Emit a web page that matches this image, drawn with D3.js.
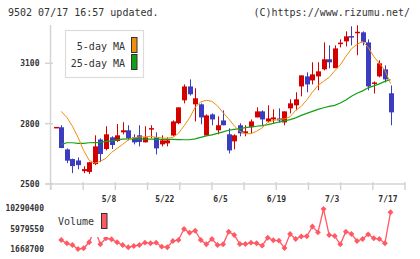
<!DOCTYPE html>
<html><head><meta charset="utf-8">
<script src="https://cdn.jsdelivr.net/npm/d3@7"></script>
<style>
html,body{margin:0;padding:0;background:#fff;}
svg{display:block;}
</style></head>
<body>
<svg id="c" width="420" height="259"></svg>
<script>
const dates = ["4/21","4/22","4/23","4/24","4/25","4/28","4/30",
"5/1","5/2","5/7","5/8","5/9","5/12","5/13","5/14","5/15","5/16","5/19","5/20","5/21","5/22","5/23","5/26","5/27","5/28","5/29","5/30",
"6/2","6/3","6/4","6/5","6/6","6/9","6/10","6/11","6/12","6/13","6/16","6/17","6/18","6/19","6/20","6/23","6/24","6/25","6/26","6/27","6/30",
"7/1","7/2","7/3","7/4","7/7","7/8","7/9","7/10","7/11","7/14","7/15","7/16","7/17"];
const open  = [2780,2782,2672,2624,2617,2564,2560,2599,2721,2674,2732,2714,2757,2767,2732,2742,2707,2773,2732,2697,2702,2741,2802,2916,2985,2896,2896,2741,2846,2767,2816,2747,2712,2792,2752,2782,2831,2861,2811,2821,2826,2806,2876,2891,2985,3035,3015,3035,3070,3120,3076,3198,3209,3234,3252,3254,3204,3000,3035,3070,2951];
const high  = [2780,2792,2677,2626,2632,2588,2610,2742,2727,2787,2737,2798,2807,2792,2747,2792,2787,2792,2757,2742,2732,2816,2881,2995,3020,2976,2901,2846,2851,2836,2866,2777,2747,2802,2792,2821,2881,2866,2891,2871,2876,2861,2921,2956,3040,3055,3105,3105,3204,3189,3189,3219,3259,3284,3289,3259,3219,3010,3115,3090,2990];
const low   = [2780,2678,2604,2554,2573,2554,2550,2594,2609,2667,2674,2709,2747,2717,2697,2687,2707,2728,2647,2687,2687,2737,2797,2901,2940,2811,2797,2741,2792,2747,2792,2652,2672,2737,2737,2752,2831,2787,2806,2801,2806,2792,2851,2866,2936,2956,2995,2966,3065,3075,3076,3179,3184,3189,3140,3189,2966,2950,3030,3005,2792];
const close = [2780,2679,2616,2589,2594,2574,2608,2687,2649,2747,2694,2742,2767,2728,2707,2709,2732,2775,2677,2717,2717,2811,2881,2985,2946,2926,2831,2841,2821,2792,2792,2667,2742,2752,2762,2811,2861,2821,2826,2831,2816,2861,2901,2921,3040,2995,3045,3060,3120,3105,3174,3200,3234,3229,3254,3204,2985,3002,3100,3020,2856];
const ma5  = [null,2861,2831,2787,2732,2667,2618,2603,2613,2628,2657,2677,2697,2719,2730,2734,2734,2737,2732,2729,2727,2732,2752,2789,2829,2881,2908,2916,2911,2888,2854,2824,2789,2762,2750,2750,2762,2779,2806,2816,2821,2824,2834,2866,2886,2918,2956,2990,3010,3030,3062,3092,3134,3172,3194,3209,3179,3134,3100,3065,3000];
const ma25 = [null,2697,2705,2705,2702,2702,2705,2706,2707,2712,2714,2719,2723,2724,2724,2724,2723,2723,2723,2722,2722,2722,2721,2720,2720,2724,2732,2739,2744,2752,2759,2767,2772,2775,2780,2784,2787,2790,2795,2801,2808,2814,2820,2829,2841,2851,2861,2871,2879,2886,2891,2903,2918,2936,2951,2963,2978,2988,2998,3010,3019];
const volume = [null,3620000,2930000,2570000,1730000,1880000,3140000,5940000,2720000,3980000,3770000,3140000,2570000,2090000,2360000,2570000,3060000,2930000,3060000,2220000,2090000,3410000,3620000,5940000,5160000,5580000,3620000,2720000,3830000,2570000,2720000,5370000,4680000,2780000,2780000,3060000,2930000,2430000,4110000,3560000,3480000,1940000,4890000,3830000,4360000,4400000,6460000,5240000,10140000,4680000,4470000,2720000,5370000,4890000,3410000,3830000,4820000,3980000,3830000,2930000,9450000];
const priceTicks = [2500,2800,3100];
const volumeTicks = [1668700,5979550,10290400];
const dateLabels = ["5/8","5/22","6/5","6/19","7/3","7/17"];

const svg = d3.select("#c");
const mono = "'DejaVu Sans Mono', monospace";
const upC = "#d40000", downC = "#3c3cc0";

const x = d3.scalePoint().domain(dates).range([55.7, 390.5]);
const y = d3.scaleLinear().domain([2500, 3100]).range([184, 63.3]);
const yv = d3.scaleLinear().domain([1668700, 10290400]).range([249.3, 208.3]);

// header
svg.append("text").attr("x", 8).attr("y", 16).attr("font-family", mono).attr("font-size", 10)
  .attr("fill", "#333").text("9502 07/17 16:57 updated.");
svg.append("text").attr("x", 410).attr("y", 16).attr("text-anchor", "end").attr("font-family", mono)
  .attr("font-size", 10).attr("fill", "#333").text("(C)https://www.rizumu.net/");

// axes
const axisC = "#d4d4d4";
svg.append("line").attr("x1", 50.5).attr("x2", 50.5).attr("y1", 25).attr("y2", 190)
  .attr("stroke", axisC).attr("stroke-width", 1.5);
svg.append("line").attr("x1", 45).attr("x2", 405.5).attr("y1", y(2500)).attr("y2", y(2500))
  .attr("stroke", axisC).attr("stroke-width", 1.5);
const gx = d3.scaleLinear().domain([0, 11]).range([51, 405]);
svg.selectAll(".xt").data(d3.range(12)).join("line")
  .attr("x1", d => gx(d)).attr("x2", d => gx(d)).attr("y1", 182).attr("y2", 190)
  .attr("stroke", axisC).attr("stroke-width", 1.5);
svg.selectAll(".yt").data(priceTicks).join("line")
  .attr("x1", 45).attr("x2", 53).attr("y1", d => y(d)).attr("y2", d => y(d))
  .attr("stroke", axisC).attr("stroke-width", 1.5);
svg.selectAll(".yl").data(priceTicks).join("text")
  .attr("x", 39.5).attr("y", d => y(d) + 3).attr("text-anchor", "end")
  .attr("font-family", mono).attr("font-size", 8).attr("font-weight", "bold").attr("fill", "#333")
  .text(d => d);
svg.selectAll(".xl").data(dateLabels).join("text")
  .attr("x", d => x(d) - 2.5).attr("y", 202).attr("text-anchor", "middle")
  .attr("font-family", mono).attr("font-size", 8).attr("font-weight", "bold").attr("fill", "#333")
  .text(d => d);

// legend
const lg = svg.append("g");
lg.append("rect").attr("x", 65.5).attr("y", 30.5).attr("width", 78).attr("height", 47)
  .attr("fill", "#fff").attr("stroke", "#dcdcdc").attr("stroke-width", 1.2);
lg.append("text").attr("x", 125).attr("y", 49.5).attr("text-anchor", "end").attr("font-family", mono)
  .attr("font-size", 10).attr("fill", "#333").text("5-day MA");
lg.append("text").attr("x", 125).attr("y", 66.5).attr("text-anchor", "end").attr("font-family", mono)
  .attr("font-size", 10).attr("fill", "#333").text("25-day MA");
lg.append("rect").attr("x", 131.5).attr("y", 37.5).attr("width", 5.5).attr("height", 15)
  .attr("fill", "#f0900a").attr("stroke", "#333").attr("stroke-width", 1);
lg.append("rect").attr("x", 131.5).attr("y", 54.5).attr("width", 5.5).attr("height", 15)
  .attr("fill", "#14a014").attr("stroke", "#333").attr("stroke-width", 1);

// candles
const idx = d3.range(dates.length);
const cg = svg.append("g");
cg.selectAll(".wick").data(idx.filter(i => i > 0)).join("line")
  .attr("x1", i => Math.round(x(dates[i])) + 0.5).attr("x2", i => Math.round(x(dates[i])) + 0.5)
  .attr("y1", i => y(high[i])).attr("y2", i => y(low[i]))
  .attr("stroke", i => close[i] >= open[i] ? upC : downC).attr("stroke-width", 1);
cg.selectAll(".body").data(idx).join("rect")
  .attr("x", i => Math.round(x(dates[i])) - 2)
  .attr("width", 5)
  .attr("y", i => { const a = y(Math.max(open[i], close[i])), b = y(Math.min(open[i], close[i])); return b - a < 1.5 ? (a + b) / 2 - 0.75 : a; })
  .attr("height", i => Math.max(1.5, y(Math.min(open[i], close[i])) - y(Math.max(open[i], close[i]))))
  .attr("fill", i => close[i] >= open[i] ? upC : downC);

// MA lines
const line = d3.line().defined(i => ma5[i] != null).x(i => x(dates[i]));
svg.append("path").datum(idx)
  .attr("d", d3.line().defined(i => ma25[i] != null).x(i => x(dates[i])).y(i => y(ma25[i])))
  .attr("fill", "none").attr("stroke", "#14a014").attr("stroke-width", 1.2);
svg.append("path").datum(idx)
  .attr("d", d3.line().defined(i => ma5[i] != null).x(i => x(dates[i])).y(i => y(ma5[i])))
  .attr("fill", "none").attr("stroke", "#f0900a").attr("stroke-width", 1);

// volume
const vc = "#ff5a64";
const vIdx = idx.filter(i => volume[i] != null);
svg.append("path").datum(vIdx)
  .attr("d", d3.line().x(i => x(dates[i])).y(i => yv(volume[i])))
  .attr("fill", "none").attr("stroke", vc).attr("stroke-width", 1.3);
svg.selectAll(".vd").data(vIdx).join("path")
  .attr("d", d3.symbol().type(d3.symbolDiamond2).size(22))
  .attr("transform", i => `translate(${x(dates[i])},${yv(volume[i])})`)
  .attr("fill", vc);
svg.selectAll(".vl").data(volumeTicks).join("text")
  .attr("x", 44).attr("y", d => yv(d) + 3).attr("text-anchor", "end")
  .attr("font-family", mono).attr("font-size", 8).attr("font-weight", "bold").attr("fill", "#333")
  .text(d => d);
// volume legend
svg.append("rect").attr("x", 56).attr("y", 210).attr("width", 54).attr("height", 27).attr("fill", "#fff");
svg.append("text").attr("x", 58).attr("y", 225).attr("font-family", mono).attr("font-size", 10)
  .attr("fill", "#333").text("Volume");
svg.append("rect").attr("x", 101.5).attr("y", 213.5).attr("width", 5.5).attr("height", 15)
  .attr("fill", "#ff5a64").attr("stroke", "#333").attr("stroke-width", 1);
</script>
</body></html>
